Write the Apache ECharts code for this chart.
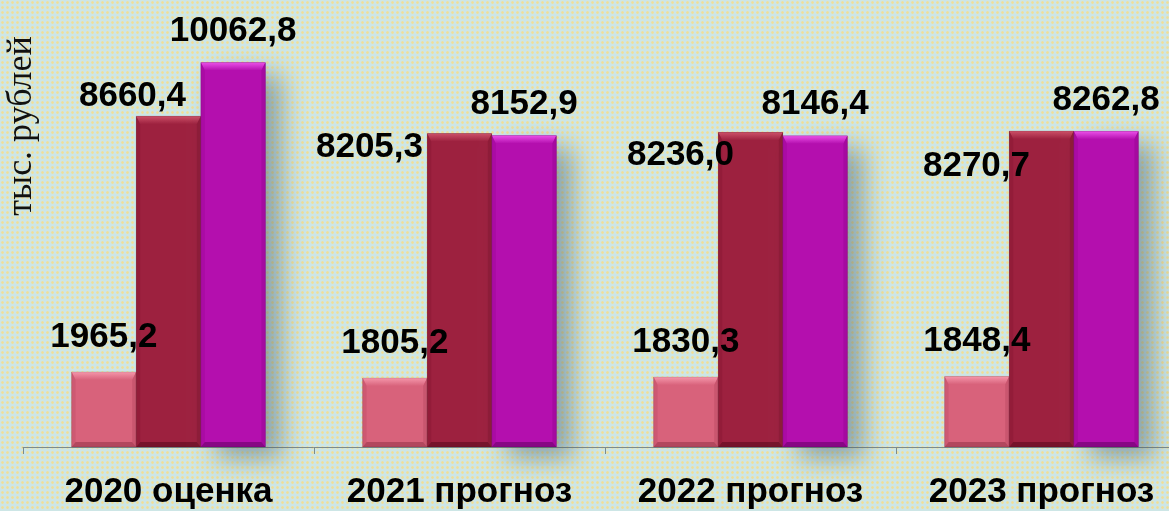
<!DOCTYPE html>
<html>
<head>
<meta charset="utf-8">
<script src="https://cdn.jsdelivr.net/npm/echarts@6/dist/echarts.min.js"></script>
<style>
  html, body { margin: 0; padding: 0; overflow: hidden; }
  #frame {
    width: 1169px; height: 511px; overflow: hidden; position: relative;
    background-color: #cde6e6;
    background-image: radial-gradient(circle, rgba(242,222,148,0.95) 0.9px, rgba(242,222,148,0) 1.7px);
    background-size: 5px 5px;
  }
  /* the plot runs a little past the right edge of the frame */
  #chart { width: 1190px; height: 511px; position: absolute; left: 0; top: 0; }
</style>
</head>
<body>
<div id="frame"><div id="chart"></div></div>
<script>
// Categories and the three series of values (thousand rubles)
const categories = ['2020 оценка', '2021 прогноз', '2022 прогноз', '2023 прогноз'];
const seriesA = [1965.2, 1805.2, 1830.3, 1848.4];
const seriesB = [8660.4, 8205.3, 8236.0, 8270.7];
const seriesC = [10062.8, 8152.9, 8146.4, 8262.8];
const axisTitle = 'тыс. рублей';

// Bar face colours with their bevel tones
const palettes = [
  { face: '#d8627b', top: '#f597ab', side: '#c9566f', bottom: '#b2475e' },
  { face: '#9d213f', top: '#cc5068', side: '#8f1b37', bottom: '#76132b' },
  { face: '#b40fae', top: '#ea50e8', side: '#a50aa0', bottom: '#870784' }
];

// Label placement relative to the bar top centre: [dx, dy] for each category
const labelShift = [
  [[0, -35], [0, -35], [0, -35], [0, -35]],
  [[-36, -20], [-90, 14], [-70, 23], [-65, 35]],
  [[0, -31], [0, -31], [0, -31], [0, -31]]
];

const BAR_FRAC = 0.222;       // bar width as a share of the category band
const LABEL_FONT = 'bold 35px "Liberation Sans", Arial, sans-serif';

function fmt(v) { return v.toFixed(1).replace('.', ','); }

function barGeom(api, k) {
  const idx = api.value(0);
  const val = api.value(1);
  const base = api.coord([idx, 0]);
  const topPt = api.coord([idx, val]);
  const catW = api.size([1, 0])[0];
  const bw = catW * BAR_FRAC;
  const cx = base[0] + (k - 1) * bw;
  return { idx, val, x0: cx - bw / 2, x1: cx + bw / 2, y0: topPt[1], y1: base[1], cx };
}

function makeBars(values, k) {
  const pal = palettes[k];
  return {
    type: 'custom',
    name: 'bars' + k,
    z: 2,
    clip: false,
    data: values.map((v, i) => [i, v]),
    encode: { x: 0, y: 1 },
    renderItem: function (params, api) {
      const g = barGeom(api, k);
      const b = 8, s = 4, bb = 5;
      const { x0, x1, y0, y1 } = g;
      const shadow = k === 2
        ? { shadowColor: 'rgba(55,85,100,0.45)', shadowBlur: 26, shadowOffsetX: 16, shadowOffsetY: 12 }
        : {};
      return {
        type: 'group',
        children: [
          { type: 'rect', shape: { x: x0, y: y0, width: x1 - x0, height: y1 - y0 },
            style: Object.assign({ fill: pal.face }, shadow) },
          { type: 'polygon', shape: { points: [[x0, y0], [x1, y0], [x1 - s, y0 + b], [x0 + s, y0 + b]] },
            style: { fill: new echarts.graphic.LinearGradient(0, 0, 0, 1, [
              { offset: 0, color: pal.top }, { offset: 1, color: pal.face }]) } },
          { type: 'polygon', shape: { points: [[x0, y0], [x0 + s, y0 + b], [x0 + s, y1 - bb], [x0, y1]] },
            style: { fill: pal.side, opacity: 0.7 } },
          { type: 'polygon', shape: { points: [[x1, y0], [x1 - s, y0 + b], [x1 - s, y1 - bb], [x1, y1]] },
            style: { fill: pal.side } },
          { type: 'polygon', shape: { points: [[x0, y1], [x0 + s, y1 - bb], [x1 - s, y1 - bb], [x1, y1]] },
            style: { fill: pal.bottom } },
          { type: 'rect', shape: { x: x0, y: y0, width: x1 - x0, height: y1 - y0 },
            style: { fill: 'none', stroke: 'rgba(0,0,0,0.12)', lineWidth: 1 } }
        ]
      };
    }
  };
}

function makeLabels(values, k) {
  return {
    type: 'custom',
    name: 'labels' + k,
    z: 10,
    clip: false,
    silent: true,
    data: values.map((v, i) => [i, v]),
    encode: { x: 0, y: 1 },
    renderItem: function (params, api) {
      const g = barGeom(api, k);
      const sh = labelShift[k][g.idx];
      return {
        type: 'text',
        style: {
          text: fmt(g.val),
          x: g.cx + sh[0],
          y: g.y0 + sh[1],
          align: 'center',
          verticalAlign: 'middle',
          font: LABEL_FONT,
          fill: '#000'
        }
      };
    }
  };
}

const chart = echarts.init(document.getElementById('chart'), null, { renderer: 'canvas' });
const valueSets = [seriesA, seriesB, seriesC];

chart.setOption({
  backgroundColor: 'transparent',
  animation: false,
  grid: { left: 23, right: 3, top: 0, bottom: 64, containLabel: false },
  xAxis: {
    type: 'category',
    data: categories,
    axisLine: { show: true, lineStyle: { color: '#7d8b8b', width: 1 } },
    axisTick: { show: true, interval: 0, length: 7, lineStyle: { color: '#7d8b8b' } },
    axisLabel: {
      interval: 0,
      margin: 28,
      color: '#000',
      fontSize: 35,
      fontWeight: 'bold',
      fontFamily: '"Liberation Sans", Arial, sans-serif'
    },
    splitLine: { show: false }
  },
  yAxis: {
    type: 'value',
    min: 0,
    max: 11700,
    show: false,
    splitLine: { show: false }
  },
  graphic: [{
    type: 'text',
    x: 22,
    y: 126,
    rotation: Math.PI / 2,
    style: {
      text: axisTitle,
      align: 'center',
      verticalAlign: 'middle',
      font: '36px "Liberation Serif", "Times New Roman", serif',
      fill: '#111'
    }
  }],
  series: valueSets.map((v, k) => makeBars(v, k)).concat(valueSets.map((v, k) => makeLabels(v, k)))
});
</script>
</body>
</html>
